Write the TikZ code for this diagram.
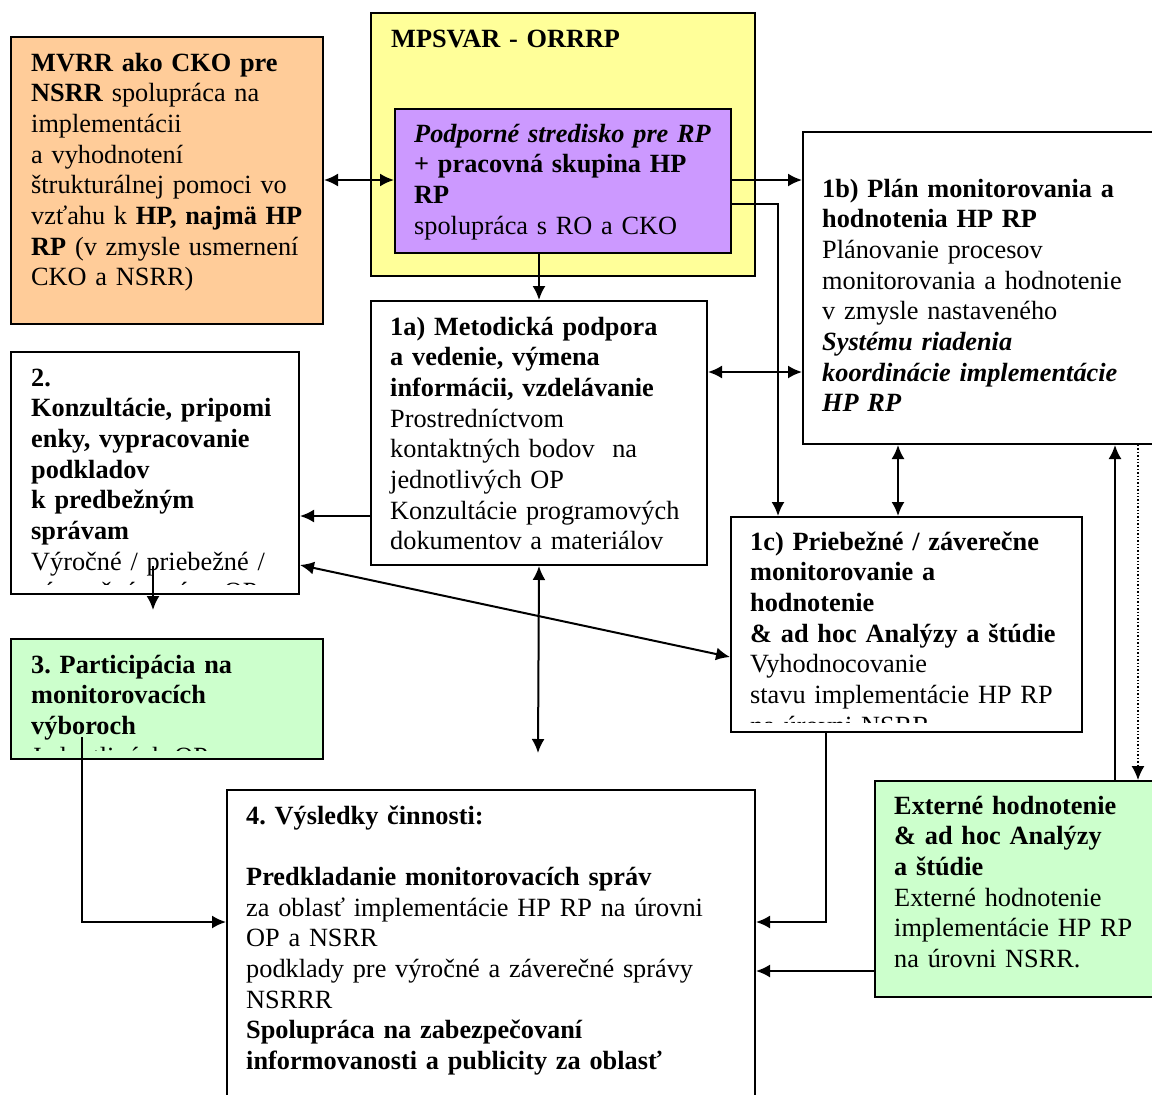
\documentclass[tikz,border=0pt]{standalone}
\usepackage{fontspec}
\setmainfont{Liberation Serif}
\usetikzlibrary{arrows.meta}
\definecolor{corange}{HTML}{FFCC99}
\definecolor{cyellow}{HTML}{FFFF99}
\definecolor{cpurple}{HTML}{CC99FF}
\definecolor{cgreen}{HTML}{CCFFCC}
\tikzset{
  box/.style={draw=black, line width=2pt, anchor=north west, inner sep=0pt},
  txt/.style={anchor=base west, inner sep=0pt, align=left, text width=520pt,
              font=\fontsize{26.3}{30.7}\selectfont\frenchspacing},
  arr/.style={line width=2pt, -{Latex[length=14pt,width=13pt]}},
  biarr/.style={line width=2pt, {Latex[length=14pt,width=13pt]}-{Latex[length=14pt,width=13pt]}},
  dotarr/.style={line width=1.4pt, dotted, -{Latex[length=14pt,width=13pt]}}
}
\begin{document}
\begin{tikzpicture}[x=1pt,y=-1pt]
\useasboundingbox (0,0) rectangle (1152,1095);
\clip (0,0) rectangle (1152,1095);
\fill[white] (0,0) rectangle (1152,1095);

% boxes
\node[box, fill=corange, minimum width=312pt, minimum height=287pt] (mvrr) at (10,36) {};
\node[box, fill=cyellow, minimum width=384pt, minimum height=263pt] (yel) at (370,12) {};
\node[box, fill=cpurple, minimum width=336pt, minimum height=144pt] (purp) at (394,108) {};
\node[box, fill=white, minimum width=370pt, minimum height=312pt] (b1b) at (802,131) {};
\node[box, fill=white, minimum width=336pt, minimum height=264pt] (b1a) at (370,300) {};
\node[box, fill=white, minimum width=288pt, minimum height=242pt] (b2) at (10,351) {};
\node[box, fill=cgreen, minimum width=312pt, minimum height=120pt] (b3) at (10,638) {};
\node[box, fill=white, minimum width=351pt, minimum height=215pt] (b1c) at (730,516) {};
\node[box, fill=cgreen, minimum width=300pt, minimum height=216pt] (ext) at (874,780) {};
\node[box, fill=white, minimum width=528pt, minimum height=340pt] (b4) at (226,789) {};

% texts
\node[txt] (tmvrr) at (31,71) {\textbf{MVRR ako CKO pre}\\
\textbf{NSRR} spolupráca na\\
implementácii\\
a vyhodnotení\\
štrukturálnej pomoci vo\\
vzťahu k \textbf{HP, najmä HP}\\
\textbf{RP} (v zmysle usmernení\\
CKO a NSRR)};

\node[txt] (tyel) at (391,47) {\textbf{MPSVAR - ORRRP}};

\node[txt] (tpurp) at (414,142) {\textbf{\textit{Podporné stredisko pre RP}}\\
\textbf{+ pracovná skupina HP}\\
\textbf{RP}\\
spolupráca s RO a CKO};

\node[txt] (t1b) at (822,197) {\textbf{1b) Plán monitorovania a}\\
\textbf{hodnotenia HP RP}\\
Plánovanie procesov\\
monitorovania a hodnotenie\\
v zmysle nastaveného\\
\textbf{\textit{Systému riadenia}}\\
\textbf{\textit{koordinácie implementácie}}\\
\textbf{\textit{HP RP}}};

\node[txt] (t1a) at (390,335) {\textbf{1a) Metodická podpora}\\
\textbf{a vedenie, výmena}\\
\textbf{informácii, vzdelávanie}\\
Prostredníctvom\\
kontaktných bodov\ \ na\\
jednotlivých OP\\
Konzultácie programových\\
dokumentov a materiálov};

\begin{scope}
\clip (11,352) rectangle (297,584);
\node[txt] (t2) at (31,386) {\textbf{2.}\\
\textbf{Konzultácie, pripomi}\\
\textbf{enky, vypracovanie}\\
\textbf{podkladov}\\
\textbf{k predbežným}\\
\textbf{správam}\\
Výročné / priebežné /\\
záverečné správy OP};
\end{scope}

\begin{scope}
\clip (11,639) rectangle (321,750);
\node[txt] (t3) at (31,673) {\textbf{3. Participácia na}\\
\textbf{monitorovacích}\\
\textbf{výboroch}\\
Jednotlivých OP};
\end{scope}

\begin{scope}
\clip (731,517) rectangle (1080,722);
\node[txt] (t1c) at (750,550) {\textbf{1c) Priebežné / záverečne}\\
\textbf{monitorovanie a}\\
\textbf{hodnotenie}\\
\textbf{\& ad hoc Analýzy a štúdie}\\
Vyhodnocovanie\\
stavu implementácie HP RP\\
na úrovni NSRR};
\end{scope}

\node[txt] (text) at (894,814) {\textbf{Externé hodnotenie}\\
\textbf{\& ad hoc Analýzy}\\
\textbf{a štúdie}\\
Externé hodnotenie\\
implementácie HP RP\\
na úrovni NSRR.};

\node[txt] (t4) at (246,824) {\textbf{4. Výsledky činnosti:}\\
\mbox{}\\
\textbf{Predkladanie monitorovacích správ}\\
za oblasť implementácie HP RP na úrovni\\
OP a NSRR\\
podklady pre výročné a záverečné správy\\
NSRRR\\
\textbf{Spolupráca na zabezpečovaní}\\
\textbf{informovanosti a publicity za oblasť}};

% helper coordinates
\coordinate (yA) at (0,180);
\coordinate (yB) at (0,204);
\coordinate (yC) at (0,372);
\coordinate (yD) at (0,516);
\coordinate (yE) at (0,565);
\coordinate (yF) at (0,657);
\coordinate (yG) at (0,922);
\coordinate (yH) at (0,971);
\coordinate (xA) at (778,0);
\coordinate (xB) at (898,0);
\coordinate (xC) at (826,0);
\coordinate (xD) at (1115,0);
\coordinate (xE) at (1138,0);
\coordinate (free4) at (538,753);
\coordinate (s23) at (153,566);
\coordinate (e23) at (153,610);
\coordinate (s34) at (82,737);

% connectors
\draw[biarr] (mvrr.east |- yA) -- (purp.west |- yA);
\draw[arr] (purp.east |- yA) -- (b1b.west |- yA);
\draw[arr] (purp.east |- yB) -| (b1c.north -| xA);
\draw[arr] (purp.south -| b1a.north) -- (b1a.north);
\draw[biarr] (b1a.east |- yC) -- (b1b.west |- yC);
\draw[biarr] (b1b.south -| xB) -- (b1c.north -| xB);
\draw[arr] (b1a.west |- yD) -- (b2.east |- yD);
\draw[biarr] (b2.east |- yE) -- (b1c.west |- yF);
\draw[biarr] (b1a.south) -- (free4);
\draw[arr] (s23) -- (e23);
\draw[arr] (s34) |- (b4.west |- yG);
\draw[arr] (b1c.south -| xC) |- (b4.east |- yG);
\draw[arr] (ext.west |- yH) -- (b4.east |- yH);
\draw[arr] (ext.north -| xD) -- (b1b.south -| xD);
\draw[dotarr] (b1b.south -| xE) -- (ext.north -| xE);
\end{tikzpicture}
\end{document}
